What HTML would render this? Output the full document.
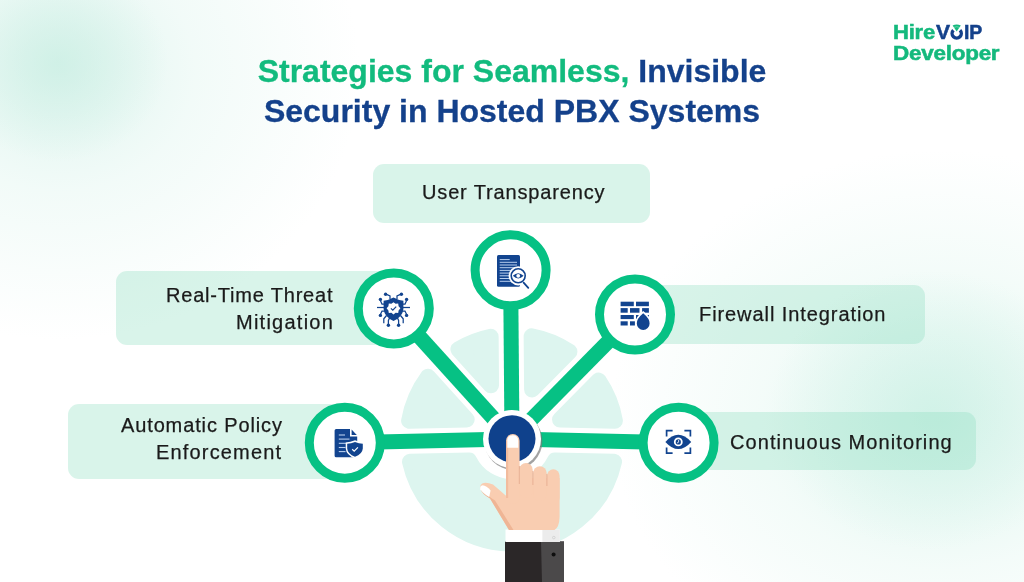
<!DOCTYPE html>
<html><head><meta charset="utf-8">
<style>
html,body{margin:0;padding:0;}
body{width:1024px;height:582px;overflow:hidden;position:relative;background:#fff;font-family:"Liberation Sans",sans-serif;}
#bg{position:absolute;left:0;top:0;width:1024px;height:582px;
 background:
 radial-gradient(ellipse 110px 100px at 58px 62px, rgba(200,238,226,0.65), rgba(255,255,255,0) 100%),
 radial-gradient(ellipse 300px 270px at 60px 70px, rgba(212,241,233,0.75), rgba(226,246,240,0.45) 45%, rgba(255,255,255,0) 100%),
 radial-gradient(ellipse 160px 140px at 930px 410px, rgba(198,239,226,0.5), rgba(255,255,255,0) 100%),
 radial-gradient(ellipse 330px 270px at 940px 420px, rgba(214,243,234,0.85), rgba(230,248,242,0.45) 55%, rgba(255,255,255,0) 100%),
 #fff;}
.t{position:absolute;white-space:nowrap;will-change:transform;color:#1a1a1a;-webkit-text-stroke:0.25px #1a1a1a;font-size:20px;line-height:23px;}
.title{position:absolute;will-change:transform;-webkit-text-stroke:0.3px currentColor;left:0;width:1024px;text-align:center;font-weight:700;font-size:32px;line-height:36px;white-space:nowrap;color:#14418b;}
.g{color:#12bb7e;}
.box{position:absolute;background:rgba(140,222,190,0.33);border-radius:11px;}
.logo{position:absolute;will-change:transform;font-weight:700;font-size:19.5px;line-height:22px;white-space:nowrap;color:#14b97d;-webkit-text-stroke:0.5px currentColor;letter-spacing:-0.2px;}
</style></head><body>
<div id="bg"></div>
<div class="title" style="top:53px;"><span class="g">Strategies for Seamless,</span> Invisible</div>
<div class="title" style="top:93px;">Security in Hosted PBX Systems</div>

<div class="logo" style="left:893px;top:21px;"><span style="display:inline-block;transform:scaleX(1.13);transform-origin:0 0;">Hire</span></div>
<div class="logo" style="left:935.5px;top:21px;color:#14418b;"><span style="display:inline-block;transform:scaleX(1.08);transform-origin:0 0;">V</span></div>
<div class="logo" style="left:963.5px;top:21px;color:#14418b;"><span style="display:inline-block;transform:scaleX(1.0);transform-origin:0 0;">IP</span></div>
<div class="logo" style="left:893px;top:42px;"><span style="display:inline-block;transform:scaleX(1.15);transform-origin:0 0;">Developer</span></div>

<div class="box" style="left:373px;top:164px;width:277px;height:59px;"></div>
<div class="box" style="left:116px;top:270.5px;width:284px;height:74.5px;"></div>
<div class="box" style="left:640px;top:285px;width:285px;height:59px;"></div>
<div class="box" style="left:68px;top:404px;width:280px;height:75px;"></div>
<div class="box" style="left:680px;top:411.5px;width:296px;height:58.5px;"></div>

<div class="t" style="left:422px;top:181.3px;letter-spacing:0.85px;">User Transparency</div>
<div class="t" style="left:166px;top:284px;letter-spacing:0.8px;">Real-Time Threat</div>
<div class="t" style="left:236.3px;top:311px;letter-spacing:1.25px;">Mitigation</div>
<div class="t" style="left:699px;top:303.3px;letter-spacing:0.92px;">Firewall Integration</div>
<div class="t" style="left:120.5px;top:414.3px;letter-spacing:0.87px;">Automatic Policy</div>
<div class="t" style="left:156.3px;top:441px;letter-spacing:1.17px;">Enforcement</div>
<div class="t" style="left:729.5px;top:431px;letter-spacing:1.08px;">Continuous Monitoring</div>

<svg width="1024" height="582" viewBox="0 0 1024 582" style="position:absolute;left:0;top:0;">
 <path d="M560.02,419.56L614.90,420.78A104.5,104.5 0 0 0 598.60,380.51ZM532.09,389.50L569.43,351.69A104.5,104.5 0 0 0 531.64,336.36ZM491.05,385.31L490.64,336.71A104.5,104.5 0 0 0 458.43,349.27ZM466.70,419.50L428.04,376.79A104.5,104.5 0 0 0 409.10,420.78ZM469.06,460.46L410.01,461.77A104.5,104.5 0 0 0 613.99,461.77L554.94,460.46A48.0,48.0 0 0 1 469.06,460.46Z" fill="#ddf5ef" stroke="#ddf5ef" stroke-width="16" stroke-linejoin="round"/>
 <g stroke="#06c184" stroke-width="15">
  <line x1="512" y1="439" x2="510.6" y2="270.3"/>
  <line x1="512" y1="439" x2="393.8" y2="308.4"/>
  <line x1="512" y1="439" x2="635" y2="314.5"/>
  <line x1="512" y1="439" x2="344.8" y2="442.7"/>
  <line x1="512" y1="439" x2="678.6" y2="442.7"/>
 </g>
 <g fill="#fff" stroke="#06c184" stroke-width="9">
  <circle cx="510.6" cy="270.3" r="35.5"/>
  <circle cx="393.8" cy="308.4" r="35.5"/>
  <circle cx="635" cy="314.5" r="35.5"/>
  <circle cx="344.8" cy="442.7" r="35.5"/>
  <circle cx="678.6" cy="442.7" r="35.5"/>
 </g>

 <!-- logo o with wifi -->
 <g>
  <path d="M953.4,30.2 A4.6,4.6 0 1 0 960,30.2" fill="none" stroke="#14418b" stroke-width="3.4"/>
  <path d="M952.6,25.6 Q956.7,23.4 960.8,25.6 L956.7,31.6Z" fill="#14b97d"/>
  <path d="M953.9,27.4 Q956.7,26 959.5,27.4" fill="none" stroke="#ffffff" stroke-width="0.5" opacity="0.7"/>
 </g>
 <!-- icon: user transparency -->
 <g>
  <rect x="497" y="255" width="23" height="31.7" rx="1.5" fill="#12448f"/>
  <g stroke="#b9cfee" stroke-width="1">
   <line x1="499.7" y1="259.6" x2="509.7" y2="259.6"/>
   <line x1="499.7" y1="262.3" x2="517" y2="262.3"/>
   <line x1="499.7" y1="265" x2="517" y2="265"/>
   <line x1="499.7" y1="267.7" x2="517" y2="267.7"/>
   <line x1="499.7" y1="270.4" x2="517" y2="270.4"/>
   <line x1="499.7" y1="273.1" x2="517" y2="273.1"/>
   <line x1="499.7" y1="275.8" x2="517" y2="275.8"/>
   <line x1="499.7" y1="278.5" x2="517" y2="278.5"/>
   <line x1="499.7" y1="281.3" x2="517" y2="281.3"/>
  </g>
  <line x1="523.5" y1="282.5" x2="528.5" y2="288" stroke="#fff" stroke-width="4"/>
  <circle cx="518.2" cy="275.8" r="9.6" fill="#fff"/>
  <circle cx="518.2" cy="275.8" r="7" fill="#fff" stroke="#12448f" stroke-width="1.6"/>
  <line x1="523.6" y1="282.6" x2="528.3" y2="287.8" stroke="#12448f" stroke-width="1.8" stroke-linecap="round"/>
  <path d="M512.8,275.8 Q518.2,270.6 523.6,275.8 Q518.2,281 512.8,275.8Z" fill="#12448f"/>
  <circle cx="518.2" cy="275.8" r="1.9" fill="#fff"/>
 </g>

 <!-- icon: threat -->
 <g fill="#12448f" stroke="#12448f">
  <g fill="none" stroke-width="1.25">
   <polyline points="390,299 390,295.8 386.5,294.4"/>
   <polyline points="397,299 397,295.8 400.5,294.4"/>
   <polyline points="385,304.2 382,304.2 380.4,300.5"/>
   <polyline points="402,304.2 405,304.2 406.6,300.5"/>
   <polyline points="385,311 382,311 380.4,314.5"/>
   <polyline points="402,311 405,311 406.6,314.5"/>
   <polyline points="389.5,318 388.4,320.5 388.4,324"/>
   <polyline points="397.5,318 398.6,320.5 398.6,324"/>
   <polyline points="386.5,315.5 383.8,318.8 383.8,323.2"/>
   <polyline points="400.5,315.5 403.2,318.8 403.2,323.2"/>
   <line x1="377" y1="307.5" x2="384" y2="307.5"/>
   <line x1="403" y1="307.5" x2="410" y2="307.5"/>
  </g>
  <g stroke="none">
   <circle cx="385.6" cy="294.3" r="1.7"/><circle cx="401.4" cy="294.3" r="1.7"/>
   <circle cx="380.4" cy="299.4" r="1.7"/><circle cx="406.6" cy="299.4" r="1.7"/>
   <circle cx="380.4" cy="315.4" r="1.7"/><circle cx="406.6" cy="315.4" r="1.7"/>
   <circle cx="388.4" cy="325.2" r="1.7"/><circle cx="398.6" cy="325.2" r="1.7"/>
  </g>
  <path stroke="none" d="M393.5,297.4 Q399,300.3 403.4,300.8 L403.4,309 Q402.6,316.8 393.5,321 Q384.4,316.8 383.6,309 L383.6,300.8 Q388,300.3 393.5,297.4Z"/>
  <path stroke="none" fill="#fff" d="M393.5,302.2 L395.6,303.8 L398.2,303.6 L398.6,306.2 L400.4,308.3 L398.6,310.4 L398.2,313 L395.6,312.8 L393.5,314.4 L391.4,312.8 L388.8,313 L388.4,310.4 L386.6,308.3 L388.4,306.2 L388.8,303.6 L391.4,303.8Z"/>
  <polyline fill="none" stroke-width="1.2" points="390.9,308.4 392.8,310.2 396.2,306.6"/>
 </g>

 <!-- icon: firewall -->
 <g fill="#12448f">
  <rect x="620.6" y="301.7" width="13.2" height="4.5"/><rect x="636" y="301.7" width="12.9" height="4.5"/>
  <rect x="620.6" y="308.1" width="7.1" height="4.6"/><rect x="630" y="308.1" width="9.5" height="4.6"/><rect x="642.1" y="308.1" width="6.8" height="4.6"/>
  <rect x="620.6" y="315" width="13.2" height="4.1"/><rect x="636" y="315" width="12.9" height="4.1"/>
  <rect x="620.6" y="321.3" width="7.1" height="4.2"/><rect x="630" y="321.3" width="4.9" height="4.2"/>
  <path d="M643.2,311 Q651.6,317.5 651.3,323.5 A8.1,8.1 0 0 1 635.1,323.5 Q634.8,317.5 643.2,311Z" fill="#fff"/>
  <path d="M643.2,313.3 Q649.8,318.8 649.6,323.5 A6.4,6.4 0 0 1 636.8,323.5 Q636.6,318.8 643.2,313.3Z"/>
 </g>

 <!-- icon: policy -->
 <g fill="#12448f">
  <path d="M336.2,428.9 L350,428.9 L350,436.5 L357.2,436.5 L357.2,455.7 Q357.2,457.3 355.6,457.3 L336.2,457.3 Q334.6,457.3 334.6,455.7 L334.6,430.5 Q334.6,428.9 336.2,428.9Z"/>
  <path d="M351.6,429.6 L356.8,435 L351.6,435Z"/>
  <g stroke="#b9cfee" stroke-width="1.1">
   <line x1="338.8" y1="435" x2="345" y2="435"/>
   <line x1="338.8" y1="439.1" x2="349.5" y2="439.1"/>
   <line x1="338.8" y1="443.3" x2="349" y2="443.3"/>
   <line x1="338.8" y1="447.5" x2="345.5" y2="447.5"/>
   <line x1="338.8" y1="451.6" x2="345.5" y2="451.6"/>
  </g>
  <path d="M355,440.3 Q359.5,442.3 364.3,442.5 L364.3,448.5 Q363.8,455 355,458.4 Q346.2,455 345.7,448.5 L345.7,442.5 Q350.5,442.3 355,440.3Z" fill="#fff"/>
  <path d="M355,442 Q358.8,443.6 362.8,443.8 L362.8,448.5 Q362.4,454 355,456.8 Q347.6,454 347.2,448.5 L347.2,443.8 Q351.2,443.6 355,442Z"/>
  <polyline points="352.2,449.2 354.2,451.1 357.9,447.3" fill="none" stroke="#fff" stroke-width="1.2"/>
 </g>

 <!-- icon: eye -->
 <g fill="none" stroke="#12448f" stroke-width="1.7">
  <polyline points="666.6,436.4 666.6,430.6 672.6,430.6"/>
  <polyline points="684.4,430.6 690.4,430.6 690.4,436.4"/>
  <polyline points="666.6,447.4 666.6,453.2 672.6,453.2"/>
  <polyline points="684.4,453.2 690.4,453.2 690.4,447.4"/>
 </g>
 <path d="M665.4,441.9 Q678.3,427.6 691.2,441.9 Q678.3,456.2 665.4,441.9Z" fill="#12448f"/>
 <circle cx="678.3" cy="441.9" r="4.4" fill="#fff"/>
 <circle cx="678.3" cy="441.9" r="2.6" fill="#12448f"/>
 <path d="M678.6,440 L678.6,442.2 L677,443" fill="none" stroke="#fff" stroke-width="0.8"/>

 <!-- centre button -->
 <circle cx="513.4" cy="441" r="29" fill="#7a7a7a" opacity="0.7"/>
 <circle cx="512" cy="439" r="29" fill="#fff"/>
 <circle cx="512" cy="438.8" r="23.5" fill="#0f418c"/>

 <!-- hand -->
 <g>
  <rect x="505" y="541.5" width="59" height="41" fill="#2b2728"/>
  <path d="M541,541.5 L564,541.5 L564,582 L542,582Z" fill="#4b494a"/>
  <circle cx="553.6" cy="554.6" r="2" fill="#0e0e0e"/>
  <rect x="505.5" y="529.5" width="54.3" height="12.5" fill="#ffffff"/>
  <rect x="542.4" y="529.5" width="17.4" height="12.5" fill="#ececec"/>
  <circle cx="553.8" cy="537.6" r="1.3" fill="none" stroke="#c6c6c6" stroke-width="0.6"/>
  <path d="M482.2,483.4 Q486.5,481.8 493,484.6 L506.3,496 L506.3,478 L559.6,478 L559.6,517 Q559.2,527.5 554.5,530 L509,530 L490,498.5 Q481.5,493 480.3,488.5 Q479.8,484.8 482.2,483.4Z" fill="#f9cdb1"/>
  <path d="M480.4,488.6 Q482,494.5 490,498.5 L509,530 L513.5,530 L495,500.5 Q486,495 483.2,489.5Z" fill="#efb595"/>
  <rect x="519.3" y="463.1" width="13.4" height="35" rx="6.7" fill="#f9cdb1"/>
  <rect x="533.1" y="466.2" width="13.6" height="35" rx="6.8" fill="#f9cdb1"/>
  <rect x="547" y="469.3" width="12.6" height="35" rx="6.3" fill="#f9cdb1"/>
  <rect x="506" y="434" width="13.6" height="70" rx="6.8" fill="#f9cdb1"/>
  <rect x="506" y="441" width="2.2" height="57" fill="#f2bc9e"/>
  <path d="M507.3,441 Q507.3,435.2 512.8,435.2 Q518.2,435.2 518.2,441 L518.2,447.8 L507.3,447.8Z" fill="#ffffff"/>
  <g stroke="#e8b194" stroke-width="1">
   <line x1="519.3" y1="466" x2="519.3" y2="484"/>
   <line x1="532.9" y1="471" x2="532.9" y2="485"/>
   <line x1="546.9" y1="474" x2="546.9" y2="486"/>
  </g>
  <path d="M480.2,489.2 Q479.6,485.6 482.6,485.2 Q486.5,485.5 490.6,490.5 L489.2,497 Q483,493.5 480.2,489.2Z" fill="#ffffff"/>
 </g>
</svg>
</body></html>
